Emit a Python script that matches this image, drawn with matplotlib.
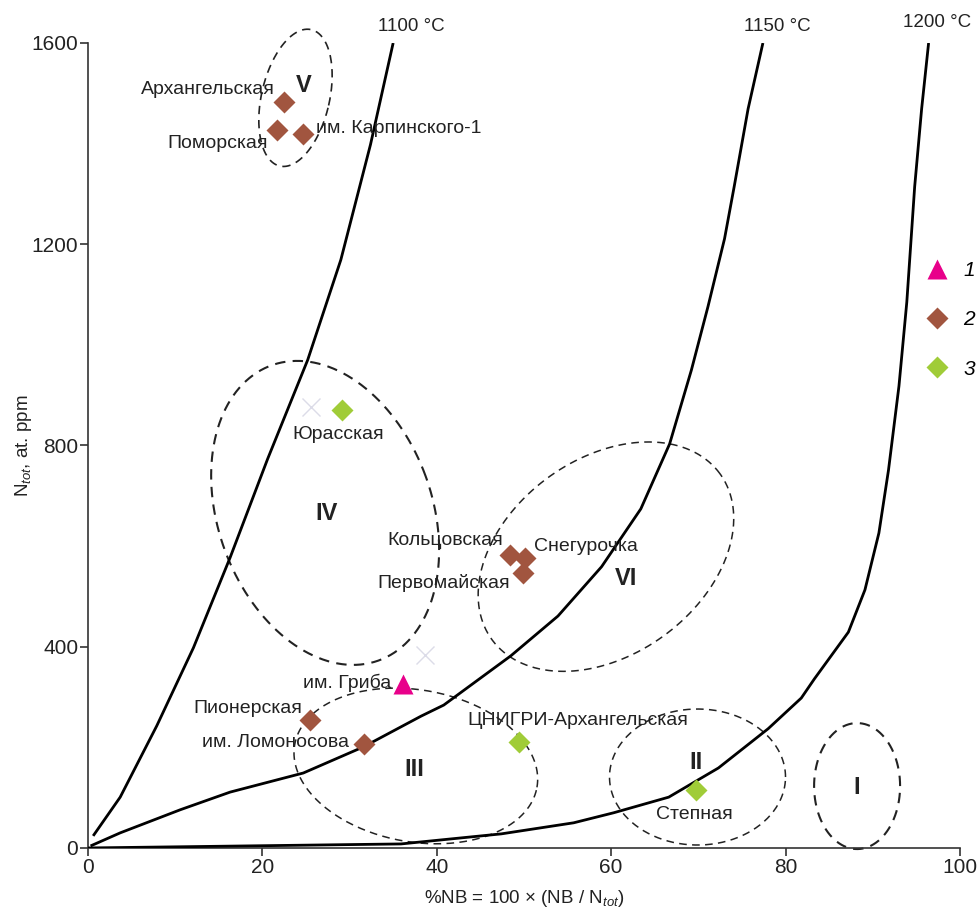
import numpy as np
import matplotlib.pyplot as plt
from matplotlib.lines import Line2D

plt.rcParams['font.family'] = ['Liberation Sans', 'DejaVu Sans']
plt.rcParams['mathtext.fontset'] = 'custom'
plt.rcParams['mathtext.rm'] = 'Liberation Sans'
plt.rcParams['mathtext.it'] = 'Liberation Sans:italic'

# изотермы
t1100_x = [0.6, 3.7, 7.9, 12.1, 16.3, 20.6, 25.2, 29.0, 32.4, 35.0]
t1100_y = [24, 101, 243, 398, 577, 773, 970, 1169, 1398, 1600]
t1150_x = [0.3, 3.7, 10.6, 16.3, 24.7, 31.6, 38.2, 40.8, 48.5, 53.9, 58.9,
           63.4, 66.7, 69.2, 71.1, 73.0, 74.1, 75.7, 77.4]
t1150_y = [4, 30, 76, 111, 149, 201, 262, 284, 382, 461, 559,
           674, 803, 950, 1076, 1211, 1314, 1469, 1600]
t1200_x = [0.0, 35.9, 47.4, 55.7, 60.3, 66.6, 72.3, 78.0, 81.8, 83.3, 87.2,
           89.1, 90.7, 91.8, 93.0, 93.9, 94.8, 95.6, 96.4]
t1200_y = [0, 8, 28, 50, 70, 101, 159, 237, 298, 336, 429,
           513, 626, 751, 918, 1085, 1314, 1469, 1600]
curve_names = ['1100 °C', '1150 °C', '1200 °C']

# месторождения
names = ['Архангельская', 'Поморская', 'им. Карпинского-1', 'Юрасская',
         'Кольцовская', 'Снегурочка', 'Первомайская', 'им. Гриба',
         'Пионерская', 'им. Ломоносова', 'ЦНИГРИ-Архангельская', 'Степная']
nb = [22.5, 21.7, 24.7, 29.1, 48.4, 50.1, 49.9, 36.1, 25.5, 31.6, 49.4, 69.7]
ntot = [1483, 1427, 1419, 871, 582, 577, 547, 326, 254, 207, 211, 115]
group = [2, 2, 2, 3, 2, 2, 2, 1, 2, 2, 3, 3]

# светлые крестики
cross_x = [25.6, 38.7]
cross_y = [877, 384]

region_names = ['I', 'II', 'III', 'IV', 'V', 'VI']

fig = plt.figure(figsize=(9.77, 9.11), dpi=100)
ax = fig.add_axes([0.090, 0.0692, 0.8926, 0.8836])
ax.set_xlim(0, 100)
ax.set_ylim(0, 1600)

# пикселей на единицу
sx = 0.8926 * 977 / 100
sy = 0.8836 * 911 / 1600


def oval(cx, cy, a, b, ang):
    t = np.linspace(0, 2 * np.pi, 300)
    r = np.deg2rad(ang)
    px = a * np.cos(t) * np.cos(r) - b * np.sin(t) * np.sin(r)
    py = a * np.cos(t) * np.sin(r) + b * np.sin(t) * np.cos(r)
    return cx + px / sx, cy + py / sy


# изотермы
for xs, ys in [(t1100_x, t1100_y), (t1150_x, t1150_y), (t1200_x, t1200_y)]:
    ax.plot(xs, ys, color='black', lw=2.0, solid_capstyle='butt', zorder=3)

label_pos = [(37.1, 1632), (79.1, 1632), (97.4, 1640)]
for name, (lx, ly) in zip(curve_names, label_pos):
    ax.text(lx, ly, name, ha='center', va='center', fontsize=13.5, color='#222222',
            clip_on=False)

# области (центр, полуоси в пикселях, угол)
ovals = [(88.2, 123, 43, 63, 0, 1.5), (69.9, 141, 88, 68, 0, 1.1),
         (37.6, 163, 123, 76, -10, 1.1), (27.2, 666, 107, 157, 20, 1.5),
         (23.8, 1491, 34, 70, -13, 1.2), (59.4, 579, 141, 98, 36, 1.1)]
for cx, cy, a, b, ang, lw in ovals:
    ex, ey = oval(cx, cy, a, b, ang)
    ax.plot(ex, ey, color='#222222', lw=lw, ls=(0, (5, 3.5)), zorder=2,
            clip_on=False)

reg_pos = [(88.2, 120), (69.7, 170), (37.4, 155), (27.4, 664), (24.8, 1515), (61.7, 535)]
for name, (rx, ry) in zip(region_names, reg_pos):
    ax.text(rx, ry, name, ha='center', va='center', fontsize=17,
            fontweight='bold', color='#222222')

ax.plot(cross_x, cross_y, ls='none', marker='x', ms=13, mew=1.0,
        color='#dcdce8', zorder=4)

styles = {1: dict(marker='^', ms=14, color='#e8008a'),
          2: dict(marker='D', ms=11.5, color='#a1553f'),
          3: dict(marker='D', ms=11.5, color='#a0cc38')}
for g in [2, 3, 1]:
    gx = [x for x, k in zip(nb, group) if k == g]
    gy = [y for y, k in zip(ntot, group) if k == g]
    ax.plot(gx, gy, ls='none', mec='none', zorder=5, **styles[g])

# подписи точек: смещение в пикселях и выравнивание
offs = [(-9, 12, 'right'), (-9, -13, 'right'), (13, 6, 'left'), (-4, -25, 'center'),
        (-7, 15, 'right'), (9, 11, 'left'), (-13, -10, 'right'), (-11, 1, 'right'),
        (-8, 12, 'right'), (-15, 1, 'right'), (-51, 21, 'left'), (-1, -24, 'center')]
for name, x, y, (dx, dy, ha) in zip(names, nb, ntot, offs):
    ax.annotate(name, (x, y), xytext=(dx * 0.72, dy * 0.72), textcoords='offset points',
                ha=ha, va='center', fontsize=14, color='#222222', zorder=6)

handles = [Line2D([], [], ls='none', mec='none', **styles[g]) for g in [1, 2, 3]]
ax.legend(handles, ['1', '2', '3'], frameon=False, loc='center left',
          bbox_to_anchor=(0.962, 0.656), handlelength=1.0, handletextpad=0.75,
          labelspacing=1.45, borderpad=0, borderaxespad=0,
          prop=dict(style='italic', size=15))

for side in ['top', 'right']:
    ax.spines[side].set_visible(False)
for side in ['left', 'bottom']:
    ax.spines[side].set_color('#333333')
    ax.spines[side].set_linewidth(1.2)
ax.set_xticks([0, 20, 40, 60, 80, 100])
ax.set_yticks([0, 400, 800, 1200, 1600])
ax.tick_params(direction='out', length=6, width=1.2, color='#333333',
               labelsize=15, labelcolor='#222222', pad=1)
ax.set_xlabel(r'%NB = 100 × (NB / N$_{tot}$)', fontsize=13.5, color='#222222', labelpad=8)
ax.set_ylabel(r'N$_{tot}$, at. ppm', fontsize=13.5, color='#222222', labelpad=-2)

fig.savefig('out.png', dpi=100)
